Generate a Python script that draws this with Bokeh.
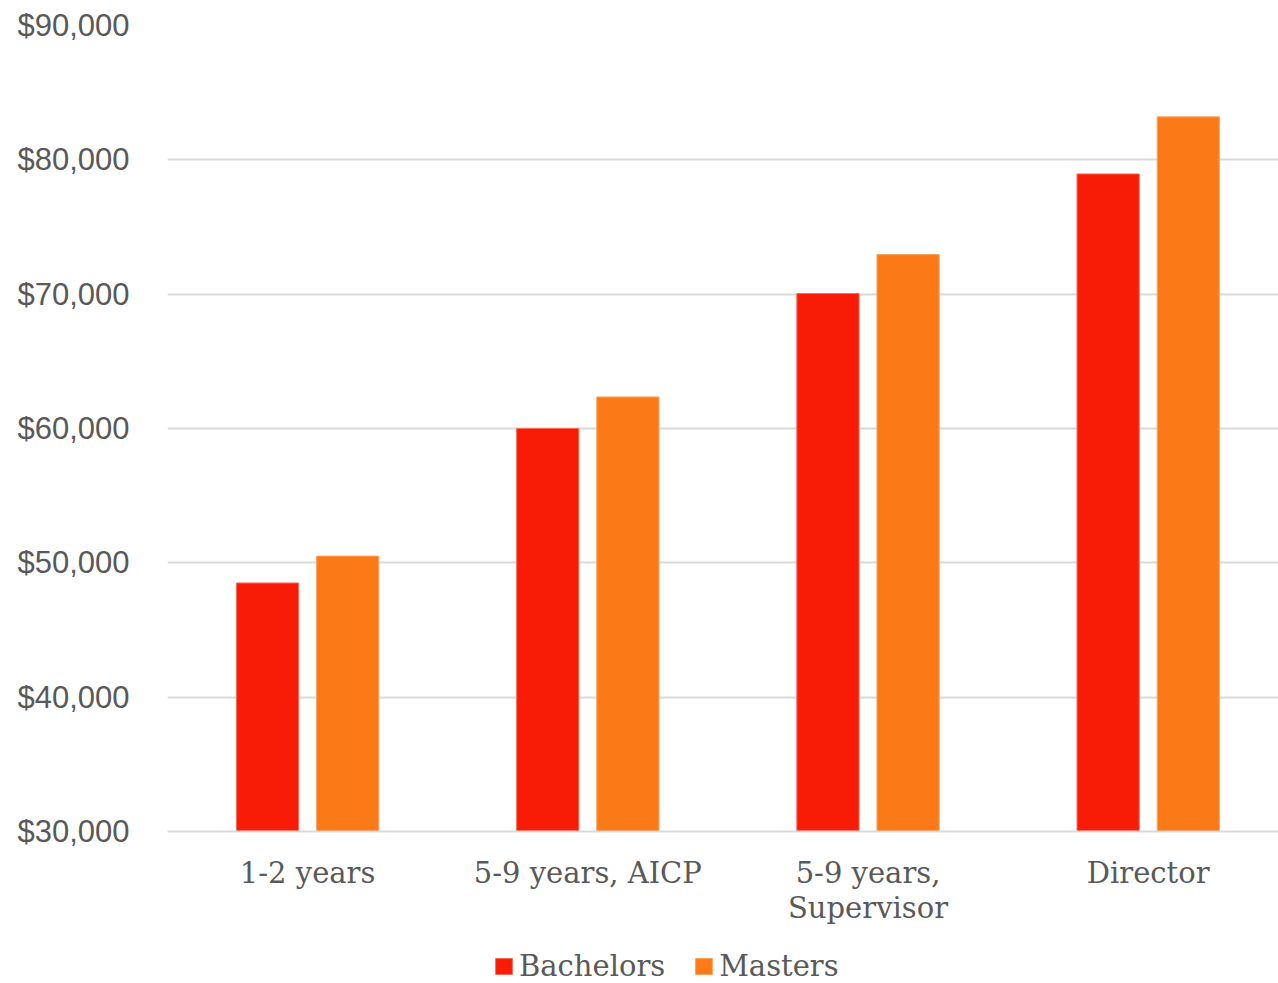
from bokeh.plotting import figure
from bokeh.layouts import column
from bokeh.models import Range1d, FixedTicker, NumeralTickFormatter, Legend, LegendItem, ColumnDataSource
from bokeh.embed import file_html
from bokeh.resources import INLINE

categories = ["1-2 years", "5-9 years, AICP", "5-9 years,\nSupervisor", "Director"]
bachelors = [48500, 60000, 70050, 78950]
masters = [50500, 62350, 72950, 83200]
y_ticks = [30000, 40000, 50000, 60000, 70000, 80000, 90000]
series_names = ["Bachelors", "Masters"]

RED = "#F81B05"
ORANGE = "#FB7A17"
TEXT = "#595959"
SERIF = "DejaVu Serif"

idx = list(range(len(categories)))
centers = [i + 0.5 for i in idx]
off = 0.143
bw = 0.222

src = ColumnDataSource(dict(
    xb=[c - off for c in centers],
    xm=[c + off for c in centers],
    b=bachelors,
    m=masters,
))

p = figure(width=1278, height=939, output_backend="svg", toolbar_location=None,
           x_range=Range1d(0, 3.965), y_range=Range1d(30000, 90000))
p.min_border_left = 167
p.min_border_right = 0
p.min_border_top = 25
p.min_border_bottom = 108
p.outline_line_color = None
p.background_fill_color = "white"
p.border_fill_color = "white"

p.vbar(x="xb", top="b", bottom=30000, width=bw, source=src,
       fill_color=RED, line_color="#FA6A55", line_width=1)
p.vbar(x="xm", top="m", bottom=30000, width=bw, source=src,
       fill_color=ORANGE, line_color="#FDA45E", line_width=1)

p.xgrid.visible = False
p.ygrid.grid_line_color = "#D9D9D9"
p.ygrid.grid_line_width = 2
p.ygrid.ticker = FixedTicker(ticks=y_ticks)

ya = p.yaxis[0]
ya.ticker = FixedTicker(ticks=y_ticks)
ya.formatter = NumeralTickFormatter(format="$0,0")
ya.axis_line_color = None
ya.major_tick_line_color = None
ya.minor_tick_line_color = None
ya.major_label_text_font = "Liberation Sans"
ya.major_label_text_font_size = "31px"
ya.major_label_text_color = TEXT
ya.major_label_standoff = 32

xa = p.xaxis[0]
xa.ticker = FixedTicker(ticks=centers)
xa.major_label_overrides = {c: lab for c, lab in zip(centers, categories)}
xa.axis_line_color = "#D9D9D9"
xa.axis_line_width = 2
xa.major_tick_line_color = None
xa.minor_tick_line_color = None
xa.major_label_text_font = SERIF
xa.major_label_text_font_size = "29px"
xa.major_label_text_color = TEXT
xa.major_label_standoff = 18
xa.major_label_text_line_height = 1.05

# legend strip (its swatch renderers sit outside the visible range)
lg = figure(width=1278, height=44, output_backend="svg", toolbar_location=None,
            x_range=Range1d(0, 1), y_range=Range1d(0, 1),
            x_axis_location=None, y_axis_location=None)
lg.min_border = 0
lg.outline_line_color = None
lg.xgrid.visible = False
lg.ygrid.visible = False
swatch = ColumnDataSource(dict(x=[-5], top=[-5]))
lb = lg.vbar(x="x", top="top", bottom=-6, width=0.1, source=swatch,
             fill_color=RED, line_color="#FA6A55")
lm = lg.vbar(x="x", top="top", bottom=-6, width=0.1, source=swatch,
             fill_color=ORANGE, line_color="#FDA45E")

legend = Legend(items=[LegendItem(label=series_names[0], renderers=[lb]),
                       LegendItem(label=series_names[1], renderers=[lm])],
                orientation="horizontal", location=(326, 0))
legend.label_text_font = SERIF
legend.label_text_font_size = "29px"
legend.label_text_color = TEXT
legend.glyph_width = 21
legend.glyph_height = 20
legend.label_standoff = 5
legend.spacing = 28
legend.border_line_color = None
legend.background_fill_alpha = 0
legend.padding = 0
legend.margin = 0
lg.add_layout(legend, "center")

layout = column(p, lg, spacing=0)
open("out.html", "w").write(file_html(layout, INLINE))
